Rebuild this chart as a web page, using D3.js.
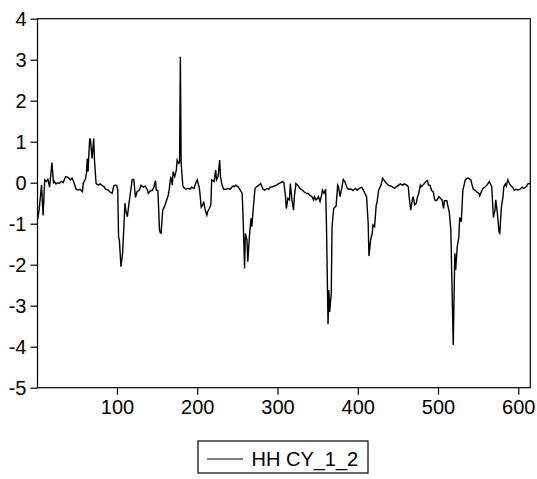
<!DOCTYPE html>
<html>
<head>
<meta charset="utf-8">
<script src="https://cdn.jsdelivr.net/npm/d3@7"></script>
<style>
  body { margin: 0; background: #fff; }
  svg text { font-family: "Liberation Sans", Arial, sans-serif; fill: #000; }
</style>
</head>
<body>
<svg id="chart"></svg>
<script>
const SIZE = { width: 537, height: 479 }
const MARGIN = { left: 37.5, right: 6.7, top: 18.7, bottom: 91.3 }

const seriesName = "HH CY_1_2"
const yTicks = [-5, -4, -3, -2, -1, 0, 1, 2, 3, 4]
const xTicks = [100, 200, 300, 400, 500, 600]

const obsIndex = [
  1, 3, 6, 8, 10, 12, 14, 16, 17, 19, 21, 22, 24, 26, 28, 31, 33, 36, 39, 42, 44, 46, 49, 52, 54, 57, 58, 61,
  62, 63, 64, 66, 67, 69, 71, 72, 74, 77, 79, 81, 84, 86, 89, 91, 94, 96, 98, 100, 101, 102, 103, 105, 107,
  110, 111, 113, 115, 117, 119, 121, 123, 125, 128, 130, 133, 135, 138, 139, 142, 144, 146, 148, 149, 151,
  153, 154, 155, 157, 159, 160, 162, 164, 165, 167, 169, 170, 172, 174, 175, 177, 178, 179, 180, 182, 183,
  186, 188, 191, 193, 196, 198, 200, 202, 203, 205, 207, 208, 210, 212, 213, 215, 217, 218, 221, 223, 224,
  226, 228, 229, 231, 233, 236, 238, 241, 243, 245, 246, 248, 251, 253, 256, 257, 259, 260, 262, 263, 265,
  267, 268, 270, 272, 274, 277, 279, 282, 284, 287, 289, 291, 294, 296, 299, 301, 304, 306, 308, 310, 311,
  313, 315, 316, 318, 320, 321, 323, 326, 328, 331, 333, 336, 338, 340, 343, 345, 346, 348, 350, 351, 353,
  355, 356, 358, 360, 361, 363, 364, 365, 367, 368, 370, 373, 375, 376, 378, 380, 382, 384, 387, 389, 392,
  394, 397, 399, 402, 405, 408, 409, 411, 413, 414, 416, 418, 419, 421, 423, 424, 426, 428, 429, 431, 434,
  436, 438, 441, 443, 446, 448, 451, 453, 456, 458, 461, 463, 464, 466, 468, 469, 471, 473, 474, 476, 478,
  479, 481, 483, 485, 487, 488, 490, 492, 494, 496, 497, 499, 501, 503, 505, 507, 508, 511, 512, 514, 516,
  517, 519, 520, 521, 522, 524, 526, 527, 529, 531, 532, 534, 536, 538, 541, 542, 544, 546, 548, 551, 552,
  554, 556, 559, 561, 564, 566, 567, 569, 571, 572, 574, 576, 577, 579, 581, 582, 584, 585, 587, 589, 591,
  593, 595, 597, 600, 602, 605, 607, 610, 612, 614, 615
]
const hhValues = [
  -0.91, -0.67, -0.06, -0.80, 0.07, 0.03, 0.08, -0.11, 0.07, 0.49, -0.02, 0.03, -0.03, 0.00, -0.02, 0.03, 0.00, 0.15, 0.13, 0.07, 0.11, 0.03, -0.16, -0.18, -0.16, -0.22, -0.02, 0.11,
  0.23, 0.59, 0.27, 1.08, 1.04, 0.59, 1.08, 0.55, -0.02, -0.06, -0.03, -0.06, -0.10, -0.16, -0.18, -0.22, -0.26, -0.08, -0.06, -0.08, -0.18, -1.32, -1.40, -2.05, -1.72,
  -0.50, -0.67, -0.83, -0.50, -0.22, 0.08, 0.08, -0.36, -0.22, -0.18, -0.06, -0.11, -0.08, -0.18, -0.26, -0.19, -0.19, -0.11, 0.05, -0.18, -0.19,
  -1.15, -1.22, -1.23, -0.67, -0.59, -0.54, -0.42, -0.30, -0.18, 0.15, -0.06, 0.27, 0.15, 0.31, 0.55, 0.47, 0.50, 3.07, 0.47, -0.06, -0.11,
  -0.16, -0.14, -0.16, -0.11, -0.14, -0.02, 0.07, -0.08, -0.18, -0.60, -0.54, -0.46, -0.67, -0.79, -0.71, -0.63, -0.54, 0.07, 0.03, 0.31, 0.07,
  0.15, 0.55, 0.15, -0.06, -0.16, -0.16, -0.14, -0.16, -0.11, -0.08, -0.10, -0.06, -0.10, -0.16, -0.26, -0.75, -2.09, -1.24, -1.40, -1.93, -1.32,
  -0.87, -1.07, -0.59, -0.14, -0.10, -0.06, -0.02, -0.16, -0.18, -0.14, -0.16, -0.11, -0.10, -0.08, -0.06, -0.03, 0.00, 0.03, 0.00, -0.34, -0.63,
  -0.38, -0.42, -0.02, -0.42, -0.67, -0.34, -0.02, -0.08, -0.14, -0.18, -0.22, -0.26, -0.26, -0.30, -0.34, -0.42, -0.34, -0.42, -0.38, -0.34, -0.46,
  -0.30, -0.18, -0.26, -0.16, -1.00, -3.45, -2.62, -3.15, -2.70, -1.07, -0.63, -0.57, -0.06, -0.10, -0.34, -0.14, 0.08, 0.03, -0.14, -0.16, -0.16,
  -0.19, -0.14, -0.18, -0.14, -0.11, -0.22, -0.26, -0.34, -0.99, -1.79, -1.40, -1.24, -1.03, -1.07, -0.55, -0.49, -0.18, -0.10, -0.06, 0.11, 0.03,
  -0.02, -0.06, -0.08, -0.10, -0.14, -0.10, -0.06, -0.03, -0.06, -0.03, -0.06, -0.10, -0.34, -0.67, -0.42, -0.34, -0.54, -0.50, -0.38, -0.26, -0.06,
  -0.10, -0.06, -0.02, 0.03, 0.05, -0.06, -0.06, -0.19, -0.22, -0.42, -0.44, -0.42, -0.34, -0.38, -0.42, -0.63, -0.44, -0.44, -0.54, -0.71, -1.15,
  -2.13, -3.96, -2.78, -1.72, -2.13, -1.56, -1.32, -0.85, -0.95, -0.18, -0.10, 0.07, 0.11, 0.11, 0.07, -0.02, -0.16, -0.18, -0.22, -0.26, -0.32,
  -0.22, -0.14, -0.10, -0.06, 0.03, -0.06, -0.10, -0.85, -0.67, -0.42, -0.75, -1.20, -1.23, -0.59, -0.34, -0.10, -0.03, -0.08, 0.07, -0.02, -0.08,
  -0.11, -0.19, -0.16, -0.18, -0.16, -0.11, -0.14, -0.10, -0.03, -0.02, 0.00
]

const data = obsIndex.map((d, i) => ({ obs: d, value: hhValues[i] }))

const body = d3.select("svg#chart").attr("width", SIZE.width).attr("height", SIZE.height)
body.append("rect").attr("width", SIZE.width).attr("height", SIZE.height).attr("fill", "#fff")

const xScale = d3.scaleLinear().domain([1, 615]).range([MARGIN.left, SIZE.width - MARGIN.right])
const yScale = d3.scaleLinear().domain([-5, 4]).range([SIZE.height - MARGIN.bottom, MARGIN.top])

const line = d3.line().x(d => xScale(d.obs)).y(d => yScale(d.value))

body.append("path").datum(data).attr("d", line)
  .attr("fill", "none").attr("stroke", "#000").attr("stroke-width", 1.4).attr("stroke-linejoin", "miter")

// frame round the plot
body.append("rect").attr("x", xScale.range()[0]).attr("y", yScale.range()[1])
  .attr("width", xScale.range()[1] - xScale.range()[0]).attr("height", yScale.range()[0] - yScale.range()[1])
  .attr("fill", "none").attr("stroke", "#000").attr("stroke-width", 1.2)

const yG = body.append("g").attr("transform", `translate(${MARGIN.left}, 0)`)
  .call(d3.axisLeft(yScale).tickValues(yTicks).tickSize(7).tickPadding(4).tickFormat(d3.format("d")))
const xG = body.append("g").attr("transform", `translate(0, ${SIZE.height - MARGIN.bottom})`)
  .call(d3.axisBottom(xScale).tickValues(xTicks).tickSize(7).tickPadding(5).tickFormat(d3.format("d")))

for (const g of [xG, yG]) {
  g.select(".domain").remove()
  g.selectAll(".tick line").attr("stroke", "#000").attr("stroke-width", 1.2)
  g.selectAll(".tick text").style("font-size", "20px").style("font-family", '"Liberation Sans", Arial, sans-serif')
}
yG.selectAll(".tick text").text(d => d < 0 ? "-" + Math.abs(d) : d)

// legend
const legend = body.append("g")
legend.append("rect").attr("x", 198).attr("y", 441).attr("width", 170).attr("height", 32)
  .attr("fill", "#fff").attr("stroke", "#000").attr("stroke-width", 1.2)
legend.append("line").attr("x1", 207).attr("x2", 243).attr("y1", 459).attr("y2", 459)
  .attr("stroke", "#000").attr("stroke-width", 1.2)
legend.append("text").attr("x", 251.5).attr("y", 466).style("font-size", "20px").text(seriesName)
</script>
</body>
</html>
